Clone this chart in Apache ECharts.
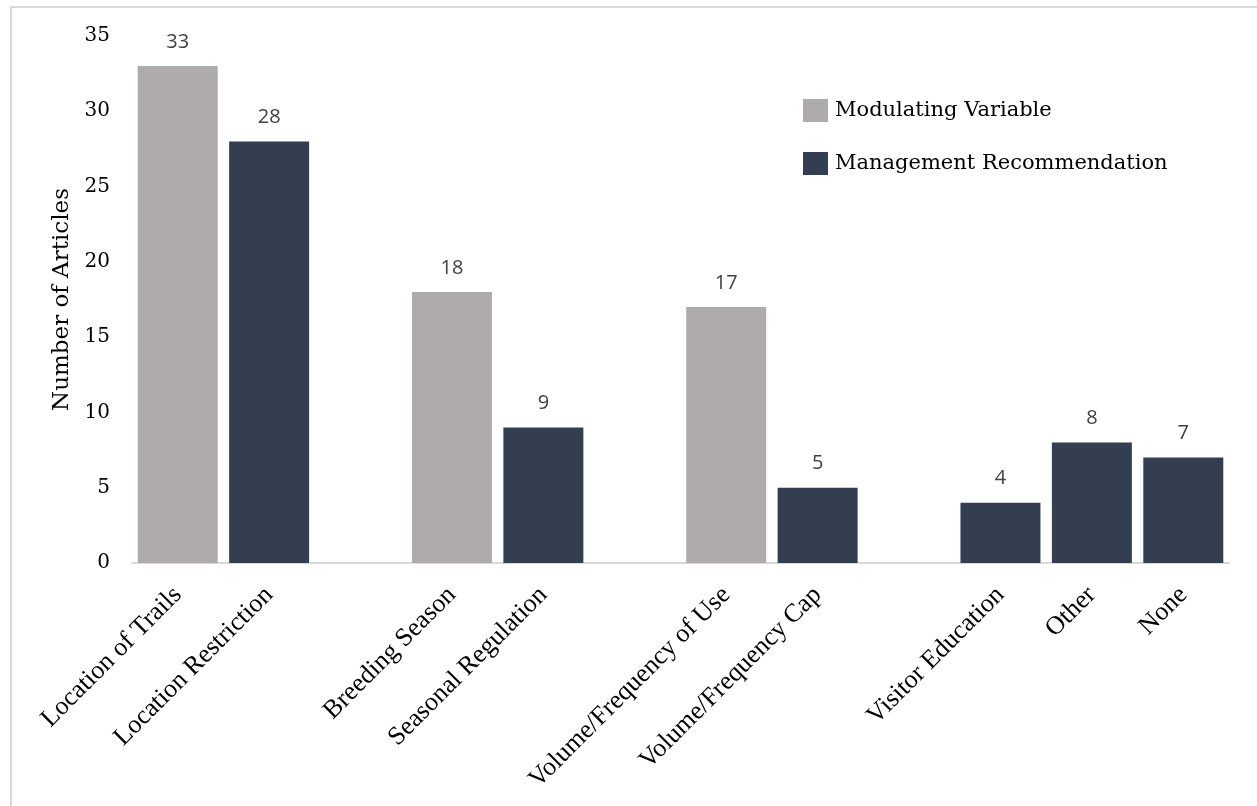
<!DOCTYPE html>
<html>
<head>
<meta charset="utf-8">
<script src="https://cdn.jsdelivr.net/npm/echarts@6/dist/echarts.min.js"></script>
<style>
html,body{margin:0;padding:0;background:#fff;}
#chart{width:1257px;height:806px;}
</style>
</head>
<body>
<div id="chart"></div>
<script>
// Categories (blank slots separate the groups)
const categories = [
  'Location of Trails', 'Location Restriction', ' ',
  'Breeding Season', 'Seasonal Regulation', '  ',
  'Volume/Frequency of Use', 'Volume/Frequency Cap', '   ',
  'Visitor Education', 'Other', 'None'
];
const modulatingVariable = [33, null, null, 18, null, null, 17, null, null, null, null, null];
const managementRecommendation = [null, 28, null, null, 9, null, null, 5, null, 4, 8, 7];
const yTicks = { min: 0, max: 35, interval: 5 };

const chart = echarts.init(document.getElementById('chart'), null, { renderer: 'canvas' });

const labelStyle = {
  show: true,
  position: 'top',
  distance: 14,
  fontFamily: 'Open Sans',
  fontSize: 20,
  color: '#404040'
};

chart.setOption({
  backgroundColor: '#ffffff',
  animation: false,
  graphic: [{
    type: 'rect',
    shape: { x: 11, y: 7, width: 1400, height: 1000 },
    style: { fill: 'none', stroke: '#D9D9D9', lineWidth: 2 },
    silent: true,
    z: -1
  }],
  grid: { left: 132, right: 28, top: 36, bottom: 243, containLabel: false },
  legend: {
    orient: 'vertical',
    left: 798,
    top: 94,
    itemWidth: 25,
    itemHeight: 23,
    itemGap: 30,
    icon: 'rect',
    textStyle: { fontFamily: 'DejaVu Serif', fontSize: 21, color: '#000000', padding: [0, 0, 0, 2] },
    data: ['Modulating Variable', 'Management Recommendation']
  },
  xAxis: {
    type: 'category',
    data: categories,
    axisLine: { show: true, lineStyle: { color: '#D9D9D9', width: 2 } },
    axisTick: { show: false },
    axisLabel: {
      interval: 0,
      rotate: 45,
      margin: 28,
      fontFamily: 'Liberation Serif',
      fontSize: 26,
      color: '#000000'
    },
    splitLine: { show: false }
  },
  yAxis: {
    type: 'value',
    min: yTicks.min,
    max: yTicks.max,
    interval: yTicks.interval,
    name: 'Number of Articles',
    nameLocation: 'middle',
    nameGap: 58,
    nameTextStyle: { fontFamily: 'DejaVu Serif', fontSize: 23, color: '#000000' },
    axisLine: { show: false },
    axisTick: { show: false },
    splitLine: { show: false },
    axisLabel: { margin: 22, fontFamily: 'DejaVu Serif', fontSize: 20, color: '#000000' }
  },
  series: [
    {
      name: 'Modulating Variable',
      type: 'bar',
      stack: 'slot',
      data: modulatingVariable,
      barCategoryGap: '12.5%',
      itemStyle: { color: '#AFABAB' },
      label: labelStyle
    },
    {
      name: 'Management Recommendation',
      type: 'bar',
      stack: 'slot',
      data: managementRecommendation,
      barCategoryGap: '12.5%',
      itemStyle: { color: '#333F50' },
      label: labelStyle
    }
  ]
});
</script>
</body>
</html>
